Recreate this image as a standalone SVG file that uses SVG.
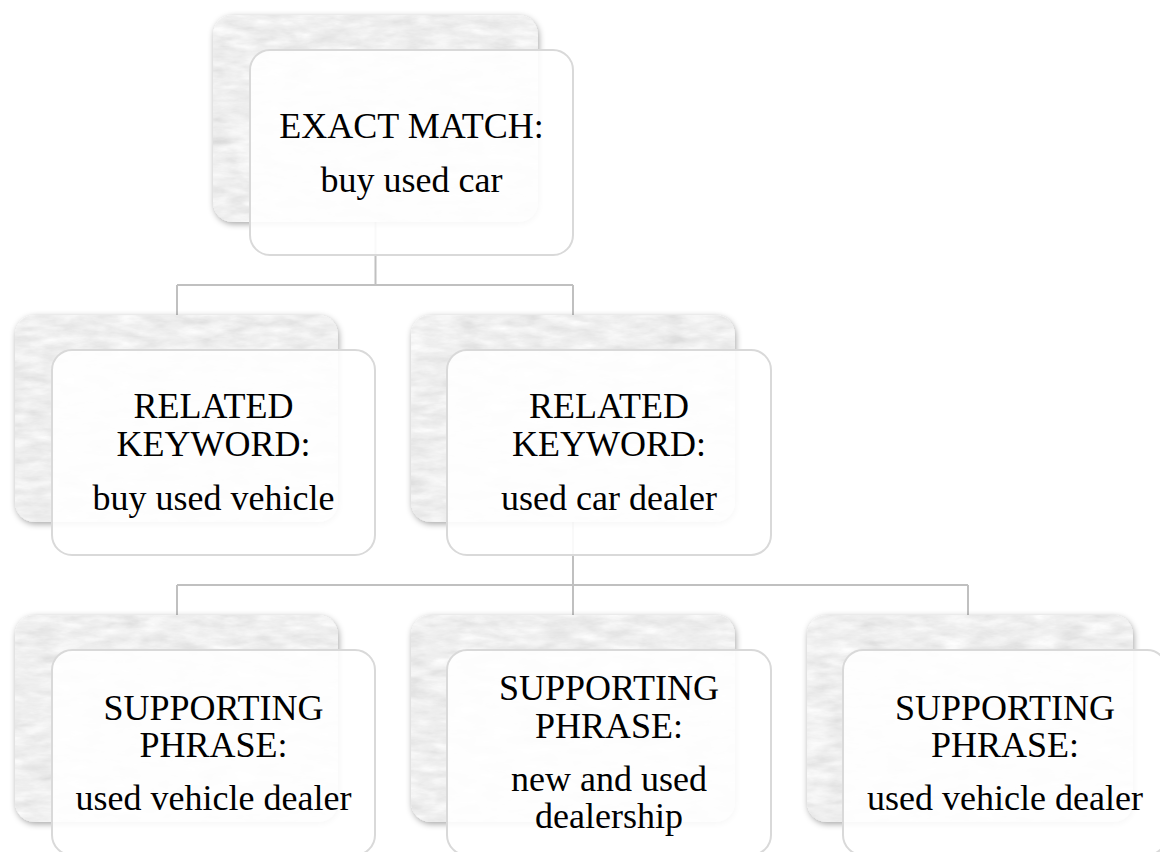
<svg xmlns="http://www.w3.org/2000/svg" width="1160" height="852" viewBox="0 0 1160 852">
<defs>
<filter id="paper" x="-6%" y="-6%" width="114%" height="116%">
<feTurbulence type="fractalNoise" baseFrequency="0.035 0.11" numOctaves="4" seed="7" result="n"/>
<feColorMatrix in="n" type="matrix" values="0.22 0.22 0 0 0.64  0.22 0.22 0 0 0.64  0.22 0.22 0 0 0.64  0 0 0 0 1" result="g"/>
<feComposite in="g" in2="SourceGraphic" operator="in" result="tex"/>
<feGaussianBlur in="SourceAlpha" stdDeviation="3"/>
<feOffset dx="1" dy="2" result="b"/>
<feFlood flood-color="#000" flood-opacity="0.35"/>
<feComposite in2="b" operator="in" result="sh"/>
<feMerge><feMergeNode in="sh"/><feMergeNode in="tex"/></feMerge>
</filter>
</defs>
<style>
.back{fill:#e4e4e4;filter:url(#paper);}
.front{fill:#ffffff;fill-opacity:0.9;stroke:#d9d9d9;stroke-width:2;}
.conn{fill:none;stroke:#c0c0c0;stroke-width:2;}
text{font-family:"Liberation Serif","Times New Roman",serif;font-size:36px;fill:#000;text-anchor:middle;}
</style>
<rect width="1160" height="852" fill="#ffffff"/>
<g id="connectors">
<path class="conn" d="M375.5 222 V285 M177 285 H573 M177 285 V315 M573 285 V315"/>
<path class="conn" d="M573 520 V585 M177 585 H968 M177 585 V615 M573 585 V615 M968 585 V615"/>
</g>
<g id="n-exact">
<rect class="back" x="213" y="15" width="325" height="207" rx="20"/>
<rect class="front" x="250" y="50" width="323" height="205" rx="20"/>
<text x="411.5" y="138">EXACT MATCH:</text>
<text x="411.5" y="192">buy used car</text>
</g>
<g id="n-related1">
<rect class="back" x="15" y="315" width="323" height="207" rx="20"/>
<rect class="front" x="52" y="350" width="323" height="205" rx="20"/>
<text x="213.5" y="418">RELATED</text>
<text x="213.5" y="456">KEYWORD:</text>
<text x="213.5" y="510">buy used vehicle</text>
</g>
<g id="n-related2">
<rect class="back" x="411" y="315" width="324" height="207" rx="20"/>
<rect class="front" x="447" y="350" width="324" height="205" rx="20"/>
<text x="609" y="418">RELATED</text>
<text x="609" y="456">KEYWORD:</text>
<text x="609" y="510">used car dealer</text>
</g>
<g id="n-support1">
<rect class="back" x="15" y="615" width="323" height="207" rx="20"/>
<rect class="front" x="52" y="650" width="323" height="205" rx="20"/>
<text x="213.5" y="720">SUPPORTING</text>
<text x="213.5" y="757">PHRASE:</text>
<text x="213.5" y="810">used vehicle dealer</text>
</g>
<g id="n-support2">
<rect class="back" x="411" y="615" width="324" height="207" rx="20"/>
<rect class="front" x="447" y="650" width="324" height="205" rx="20"/>
<text x="609" y="700">SUPPORTING</text>
<text x="609" y="738">PHRASE:</text>
<text x="609" y="791">new and used</text>
<text x="609" y="828">dealership</text>
</g>
<g id="n-support3">
<rect class="back" x="807" y="615" width="326" height="207" rx="20"/>
<rect class="front" x="843" y="650" width="324" height="205" rx="20"/>
<text x="1005" y="720">SUPPORTING</text>
<text x="1005" y="757">PHRASE:</text>
<text x="1005" y="810">used vehicle dealer</text>
</g>
</svg>
